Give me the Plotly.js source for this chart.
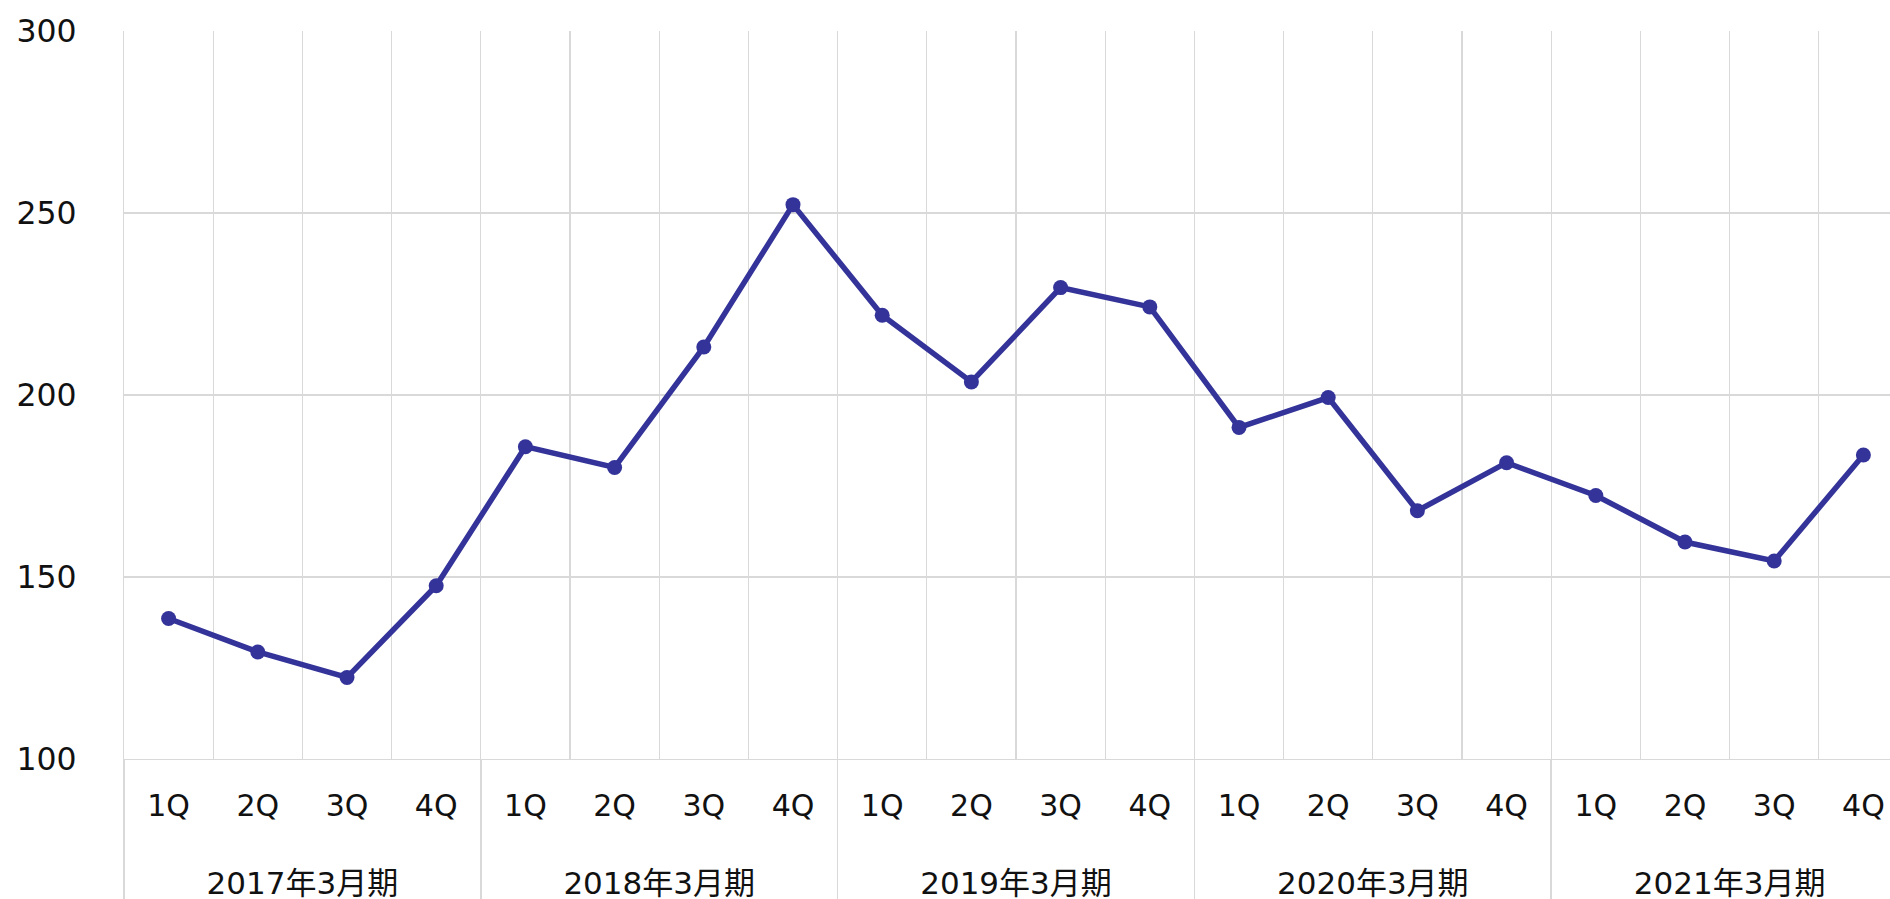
<!DOCTYPE html>
<html>
<head>
<meta charset="utf-8">
<script src="https://cdn.plot.ly/plotly-3.0.1.min.js"></script>
<style>
html, body { margin: 0; padding: 0; overflow: hidden; background: #fff; }
#chart { width: 1908px; height: 899px; }
</style>
</head>
<body>
<div id="chart"></div>
<script>
// Data
const fiscalYears = ['2017年3月期', '2018年3月期', '2019年3月期', '2020年3月期', '2021年3月期'];
const quarters = ['1Q', '2Q', '3Q', '4Q'];
const values2017 = [138.6, 129.4, 122.4, 147.6];
const values2018 = [185.8, 180.1, 213.2, 252.3];
const values2019 = [221.9, 203.6, 229.5, 224.2];
const values2020 = [191.1, 199.3, 168.2, 181.4];
const values2021 = [172.4, 159.6, 154.4, 183.5];
const yTicks = [100, 150, 200, 250, 300];

const seriesByYear = [values2017, values2018, values2019, values2020, values2021];
const xKeys = [], xQuarterText = [], yVals = [];
fiscalYears.forEach((fy, i) => {
  quarters.forEach((q, j) => {
    xKeys.push(fy + ' ' + q);
    xQuarterText.push(q);
    yVals.push(seriesByYear[i][j]);
  });
});

const gridColor = '#d9d9d9';
const textColor = '#111111';
const fontFamily = '"DejaVu Sans", Verdana, "Noto Sans CJK JP", sans-serif';

const lineTrace = {
  type: 'scatter',
  mode: 'lines+markers',
  x: xKeys,
  y: yVals,
  xaxis: 'x',
  yaxis: 'y',
  line: { color: '#333399', width: 5.5 },
  marker: { color: '#333399', size: 15 },
  hoverinfo: 'y',
  showlegend: false
};

// helper trace that only registers the fiscal-year categories on the outer axis
const yearTrace = {
  type: 'scatter',
  mode: 'markers',
  x: fiscalYears,
  y: fiscalYears.map(() => null),
  xaxis: 'x2',
  yaxis: 'y',
  hoverinfo: 'skip',
  showlegend: false
};

const layout = {
  width: 1908,
  height: 899,
  margin: { l: 124, r: 0, t: 31, b: 140 },
  paper_bgcolor: '#ffffff',
  plot_bgcolor: '#ffffff',
  showlegend: false,
  font: { family: fontFamily, size: 30, color: textColor },
  xaxis: {
    type: 'category',
    tickmode: 'array',
    tickvals: xKeys,
    ticktext: xQuarterText,
    tickson: 'boundaries',
    ticks: '',
    showgrid: true,
    gridcolor: gridColor,
    gridwidth: 1.2,
    showline: true,
    linecolor: gridColor,
    linewidth: 1.2,
    ticklabelstandoff: 20,
    tickfont: { family: fontFamily, size: 30, color: textColor },
    range: [-0.5, 19.5],
    fixedrange: true
  },
  xaxis2: {
    type: 'category',
    overlaying: 'x',
    anchor: 'y',
    side: 'bottom',
    categoryorder: 'array',
    categoryarray: fiscalYears,
    tickson: 'boundaries',
    ticks: 'outside',
    ticklen: 141,
    tickwidth: 1.5,
    tickcolor: gridColor,
    showgrid: false,
    showline: false,
    zeroline: false,
    ticklabelstandoff: 103,
    tickfont: { family: fontFamily, size: 31, color: textColor },
    range: [-0.5, 4.5],
    fixedrange: true
  },
  yaxis: {
    range: [100, 300],
    tickvals: yTicks,
    showgrid: true,
    gridcolor: gridColor,
    gridwidth: 1.2,
    showline: true,
    linecolor: gridColor,
    linewidth: 1.2,
    zeroline: false,
    ticks: '',
    ticklabelstandoff: 40,
    tickfont: { family: fontFamily, size: 31.5, color: textColor },
    fixedrange: true
  }
};

Plotly.newPlot('chart', [lineTrace, yearTrace], layout, { displayModeBar: false, staticPlot: true });
</script>
</body>
</html>
